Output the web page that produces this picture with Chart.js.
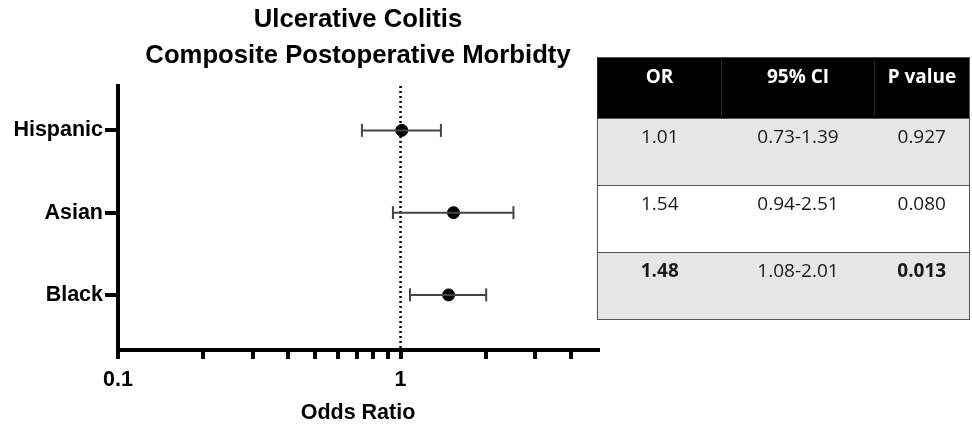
<!DOCTYPE html>
<html>
<head>
<meta charset="utf-8">
<script src="https://cdn.jsdelivr.net/npm/chart.js"></script>
<style>
  body { margin: 0; background: #fff; }
  #wrap { position: relative; width: 972px; height: 426px; overflow: hidden; }
  #myChart { position: absolute; left: 0; top: 0; }
  #stats {
    position: absolute; left: 597px; top: 57px; width: 373px;
    border-collapse: collapse; font-family: "Open Sans", sans-serif; font-size: 19px;
    border: 1px solid #555;
  }
  #stats th {
    background: #000; color: #fff; font-weight: bold; height: 61px;
    vertical-align: top; padding: 5px 0 0 0; box-sizing: border-box;
    border-left: 1px solid #222;
  }
  #stats td {
    height: 67px; vertical-align: top; text-align: center; color: #1a1a1a;
    padding: 4px 0 0 0; box-sizing: border-box; border-top: 1px solid #555;
  }
  #stats tr.shade td { background: #e6e6e6; }
</style>
</head>
<body>
<div id="wrap">
  <canvas id="myChart" width="716" height="426"></canvas>
  <table id="stats">
    <thead><tr><th style="width:124px">OR</th><th style="width:153px">95% CI</th><th>P value</th></tr></thead>
    <tbody id="statsBody"></tbody>
  </table>
</div>
<script>
// Chart data
var groups = ['Hispanic', 'Asian', 'Black'];
var oddsRatio = [1.01, 1.54, 1.48];
var ciLow = [0.73, 0.94, 1.08];
var ciHigh = [1.39, 2.51, 2.01];
var pValues = ['0.927', '0.080', '0.013'];
var significant = [false, false, true];
var xTicks = [0.1, 0.2, 0.3, 0.4, 0.5, 0.6, 0.7, 0.8, 0.9, 1, 2, 3, 4];
var xTickLabels = { '0.1': '0.1', '1': '1' };

// Table on the right
var tbody = document.getElementById('statsBody');
groups.forEach(function (g, i) {
  var tr = document.createElement('tr');
  if (i !== 1) tr.className = 'shade';
  var b = significant[i] ? 'font-weight:bold' : '';
  tr.innerHTML = '<td style="' + b + '">' + oddsRatio[i].toFixed(2) + '</td>' +
    '<td>' + ciLow[i].toFixed(2) + '-' + ciHigh[i].toFixed(2) + '</td>' +
    '<td style="' + b + '">' + pValues[i] + '</td>';
  tbody.appendChild(tr);
});

// Datasets
var datasets = [];
groups.forEach(function (g, i) {
  datasets.push({
    type: 'scatter',
    data: [{ x: ciLow[i], y: i + 1 }, { x: ciHigh[i], y: i + 1 }],
    showLine: true,
    borderColor: '#444',
    borderWidth: 2,
    pointStyle: 'line',
    rotation: 90,
    pointRadius: 6.5,
    pointBorderColor: '#444',
    pointBorderWidth: 2
  });
});
datasets.push({
  type: 'scatter',
  data: groups.map(function (g, i) { return { x: oddsRatio[i], y: i + 1 }; }),
  pointRadius: 6,
  backgroundColor: '#000',
  borderColor: '#000'
});
// reference line at OR = 1
datasets.push({
  type: 'scatter',
  data: [{ x: 1, y: 0.46 }, { x: 1, y: 3.67 }],
  showLine: true,
  borderColor: '#000',
  borderWidth: 2.5,
  borderDash: [2, 3],
  pointRadius: 0
});

var labelFont = { family: 'Liberation Sans, Arial, sans-serif', size: 21.5, weight: 'bold' };

var ctx = document.getElementById('myChart').getContext('2d');
var myChart = new Chart(ctx, {
  type: 'scatter',
  data: { datasets: datasets },
  options: {
    responsive: false,
    animation: false,
    layout: { padding: { left: 0, right: 118, bottom: 0 } },
    plugins: {
      legend: { display: false },
      tooltip: { enabled: false },
      title: {
        display: true,
        fullSize: false, // centre over the plot area only
        text: ['Ulcerative Colitis', 'Composite Postoperative Morbidty'],
        color: '#000',
        font: { family: 'Liberation Sans, Arial, sans-serif', size: 25.7, weight: 'bold', lineHeight: 1.4 },
        padding: { top: 2, bottom: 12 }
      }
    },
    scales: {
      x: {
        type: 'logarithmic',
        min: 0.1,
        max: 5,
        afterBuildTicks: function (scale) {
          scale.ticks = xTicks.map(function (v) { return { value: v }; });
        },
        afterFit: function (scale) { scale.height = 76; },
        ticks: {
          autoSkip: false,
          maxRotation: 0,
          color: '#000',
          font: labelFont,
          padding: 8,
          callback: function (v) { return xTickLabels[String(v)] || ''; }
        },
        grid: { drawOnChartArea: false, drawTicks: true, tickLength: 9, lineWidth: 4, color: '#000' },
        border: { width: 4, color: '#000' },
        title: { display: true, text: 'Odds Ratio', color: '#000', font: labelFont, padding: { top: 6, bottom: 0 } }
      },
      y: {
        type: 'linear',
        reverse: true,
        min: 0.46,
        max: 3.67,
        afterBuildTicks: function (scale) {
          scale.ticks = groups.map(function (g, i) { return { value: i + 1 }; });
        },
        afterFit: function (scale) { scale.width = 118; },
        ticks: {
          color: '#000',
          font: labelFont,
          padding: 2,
          callback: function (v) { return groups[v - 1] || ''; }
        },
        grid: { drawOnChartArea: false, drawTicks: true, tickLength: 13, lineWidth: 4, color: '#000' },
        border: { width: 4, color: '#000' }
      }
    }
  }
});
</script>
</body>
</html>
